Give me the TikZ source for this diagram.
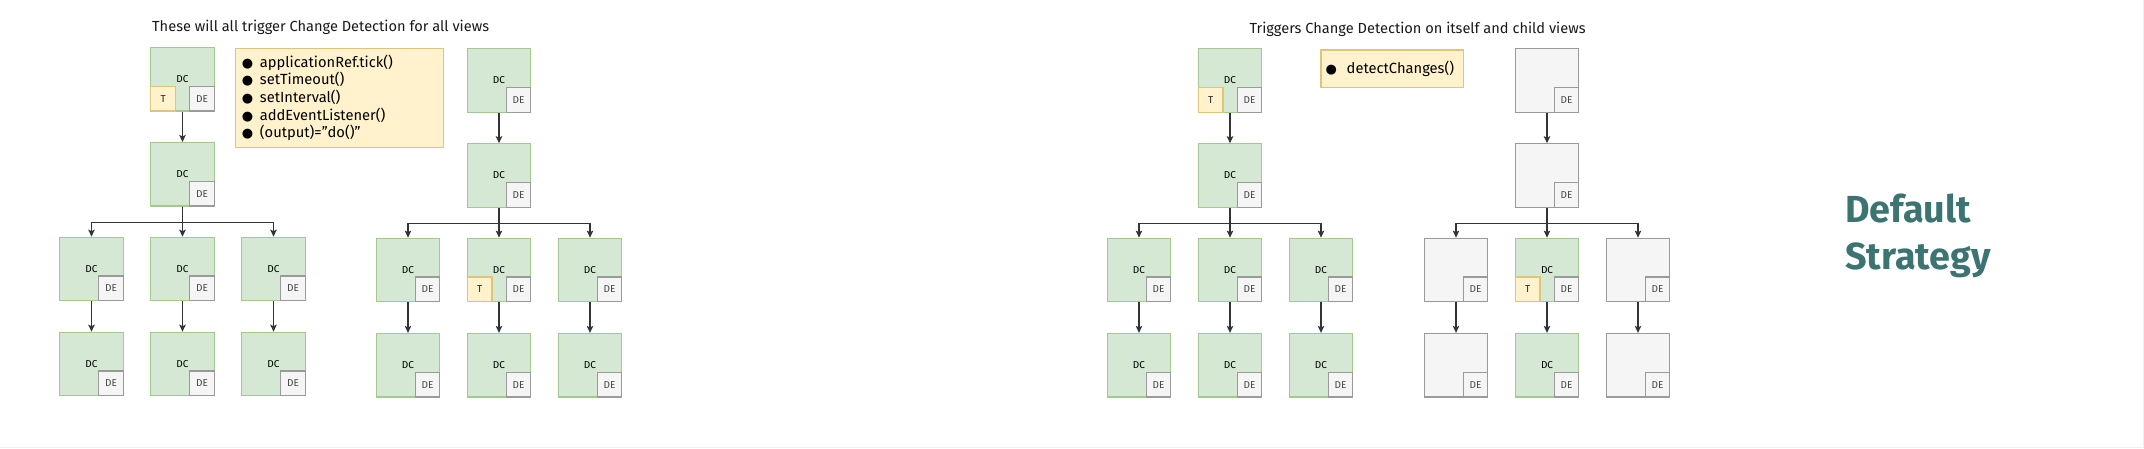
\documentclass[tikz,border=0pt]{standalone}
\usepackage{fontspec}
\setmainfont{Fira Sans}
\newfontfamily\dejavu{DejaVu Sans}
\usetikzlibrary{arrows.meta}
\definecolor{gfill}{HTML}{D5E8D4}
\definecolor{gline}{HTML}{A3C98E}
\definecolor{efill}{HTML}{F5F5F5}
\definecolor{eline}{HTML}{9A9A9A}
\definecolor{yfill}{HTML}{FFF2CC}
\definecolor{yline}{HTML}{DFC57A}
\definecolor{stratcol}{HTML}{3C7471}
\definecolor{arrcol}{HTML}{333333}
\definecolor{framecol}{HTML}{F0F0F0}
\tikzset{
  view/.style={draw=gline, fill=gfill, line width=1.2pt, minimum width=63.6pt, minimum height=63.5pt, inner sep=0pt, font=\fontsize{10}{11}\selectfont, text=black},
  greyview/.style={view, draw=eline, fill=efill},
  debox/.style={draw=eline, fill=efill, line width=1.2pt, minimum width=24.6pt, minimum height=24.7pt, inner sep=0pt, font=\fontsize{10}{11}\selectfont, text=black!72, anchor=south east},
  tbox/.style={draw=yline, fill=yfill, line width=1.2pt, minimum width=24.8pt, minimum height=24.7pt, inner sep=0pt, font=\fontsize{10}{11}\selectfont, text=black!85, anchor=south west},
  arr/.style={draw=arrcol, line width=1.1pt, -{Stealth[length=7pt,width=6.5pt,inset=1.5pt]}},
  listbox/.style={draw=yline, fill=yfill, line width=1.2pt, font=\fontsize{14.7}{17.6}\selectfont, text=black},
  titletext/.style={font=\fontsize{14.6}{17.6}\selectfont, text=black!90, anchor=west, inner sep=0pt},
}
\newcommand\viewnode[4]{%
  \node[#3] (#1) at (#2) {#4};
  \node[debox] (#1de) at (#1.south east) {DE};
}
\newcommand\tnode[1]{\node[tbox] (#1t) at (#1.south west) {T};}
\newcommand\bul[1]{\makebox[#1][l]{\fontsize{13}{11}\dejavu ●}}
\begin{document}
\begin{tikzpicture}[x=1pt, y=-1pt]
\useasboundingbox (0,0) rectangle (2144,448);
\fill[white] (0,0) rectangle (2144,448);
\draw[framecol, line width=1pt] (0,447.5) -- (2143.5,447.5) -- (2143.5,0);

% titles
\node[titletext] (title1) at (152,27.5) {These will all trigger Change Detection for all views};
\node[titletext] (title2) at (1249.3,29.5) {Triggers Change Detection on itself and child views};

% list boxes
\node[listbox, anchor=north west, minimum width=207.8pt, minimum height=99.3pt, text width=194.8pt, inner xsep=6.5pt, align=left] (list1) at (234.8,47.7)
 {\bul{18pt}applicationRef.tick()\\
  \bul{18pt}setTimeout()\\
  \bul{18pt}setInterval()\\
  \bul{18pt}addEventListener()\\
  \bul{18pt}(output)=”do()”};
\node[listbox, anchor=north west, minimum width=142.8pt, minimum height=37.4pt, text width=133.4pt, inner xsep=4.7pt, inner ysep=0pt, align=left] (list2) at (1320.4,49.3)
 {\bul{21pt}detectChanges()};

% strategy label
\node[anchor=base west, align=left, inner sep=0pt, text=stratcol, font=\fontsize{37.7}{46.6}\selectfont\bfseries] (strategy) at (1845,269.3) {Default\\Strategy};

% ---------- group 1 ----------
\viewnode{g1a}{182.5,79.3}{view}{DC}\tnode{g1a}
\viewnode{g1b}{182.5,174.3}{view}{DC}
\viewnode{g1ca}{91.5,269}{view}{DC}
\viewnode{g1cb}{182.5,269}{view}{DC}
\viewnode{g1cc}{273.5,269}{view}{DC}
\viewnode{g1da}{91.5,364}{view}{DC}
\viewnode{g1db}{182.5,364}{view}{DC}
\viewnode{g1dc}{273.5,364}{view}{DC}
% ---------- group 2 ----------
\viewnode{g2a}{499,80.5}{view}{DC}
\viewnode{g2b}{499,175.5}{view}{DC}
\viewnode{g2ca}{408,270}{view}{DC}
\viewnode{g2cb}{499,270}{view}{DC}\tnode{g2cb}
\viewnode{g2cc}{590,270}{view}{DC}
\viewnode{g2da}{408,365.2}{view}{DC}
\viewnode{g2db}{499,365.2}{view}{DC}
\viewnode{g2dc}{590,365.2}{view}{DC}
% ---------- group 3 ----------
\viewnode{g3a}{1230,80.5}{view}{DC}\tnode{g3a}
\viewnode{g3b}{1230,175.5}{view}{DC}
\viewnode{g3ca}{1139,270}{view}{DC}
\viewnode{g3cb}{1230,270}{view}{DC}
\viewnode{g3cc}{1321,270}{view}{DC}
\viewnode{g3da}{1139,365.2}{view}{DC}
\viewnode{g3db}{1230,365.2}{view}{DC}
\viewnode{g3dc}{1321,365.2}{view}{DC}
% ---------- group 4 ----------
\viewnode{g4a}{1547,80.5}{greyview}{}
\viewnode{g4b}{1547,175.5}{greyview}{}
\viewnode{g4ca}{1456,270}{greyview}{}
\viewnode{g4cb}{1547,270}{view}{DC}\tnode{g4cb}
\viewnode{g4cc}{1638,270}{greyview}{}
\viewnode{g4da}{1456,365.2}{greyview}{}
\viewnode{g4db}{1547,365.2}{view}{DC}
\viewnode{g4dc}{1638,365.2}{greyview}{}

% ---------- connectors ----------
\foreach \g in {g1,g2,g3,g4}{
  \draw[arr] (\g a) -- (\g b);
  \draw[arr] (\g b.south) -- ++(0,15.6) -| (\g ca.north);
  \draw[arr] (\g b.south) -- (\g cb.north);
  \draw[arr] (\g b.south) -- ++(0,15.6) -| (\g cc.north);
  \draw[arr] (\g ca) -- (\g da);
  \draw[arr] (\g cb) -- (\g db);
  \draw[arr] (\g cc) -- (\g dc);
}
\end{tikzpicture}
\end{document}
